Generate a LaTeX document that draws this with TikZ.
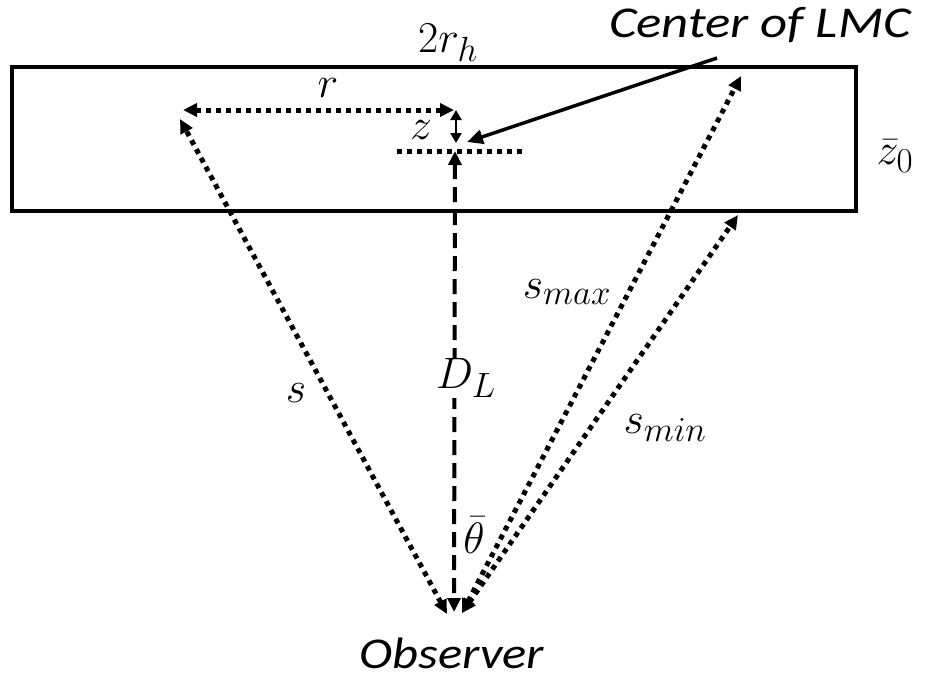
\RequirePackage{fix-cm}
\documentclass[tikz,border=0pt]{standalone}
\usepackage{fontspec}
\setsansfont{Carlito}
\DeclareMathSizes{44}{44}{35}{28}
\usetikzlibrary{arrows.meta}
\begin{document}
\begin{tikzpicture}[x=1pt,y=-1pt,
  tip/.tip={Triangle[length=14pt,width=13pt]},
  dotline/.style={line width=5pt,dash pattern=on 5pt off 5pt},
  dotarrow/.style={dotline,tip-tip},
  dashline/.style={line width=4pt,dash pattern=on 15pt off 8pt,tip-tip},
  mlabel/.style={inner sep=0pt,font=\fontsize{44}{52}\selectfont},
  tlabel/.style={inner sep=0pt,font=\fontsize{44}{52}\selectfont\sffamily\itshape}]
\useasboundingbox (0,0) rectangle (925,681);
% the slab
\draw[line width=4.5pt] (12,67) rectangle (856,211);
% points
\coordinate (obsL) at (447,614);
\coordinate (obsC) at (454,612);
\coordinate (obsR) at (462,613);
\coordinate (sTop) at (180,119);
\coordinate (rL) at (183,110);
\coordinate (rR) at (454,110);
\coordinate (zTop) at (456,110);
\coordinate (zBot) at (456,143);
\coordinate (cen) at (455,151);
\coordinate (hL) at (397,151);
\coordinate (hR) at (525,151);
\coordinate (maxTop) at (741,76);
\coordinate (minTop) at (738,215);
\coordinate (lmcStart) at (717,58);
\coordinate (lmcTip) at (467,142);
% connectors
\draw[dotline] (hL) -- (hR);
\draw[dotarrow] (rL) -- (rR);
\draw[line width=2.5pt,{Triangle[length=10pt,width=11pt]}-{Triangle[length=10pt,width=11pt]}] (zTop) -- (zBot);
\draw[dashline] (cen) -- (obsC);
\draw[dotarrow] (obsL) -- (sTop);
\draw[dotarrow] (obsR) -- (maxTop);
\draw[dotarrow] (obsR) -- (minTop);
\draw[line width=3.5pt,-{Triangle[length=16pt,width=14pt]}] (lmcStart) -- (lmcTip);
% labels
\node[mlabel] (l2rh) at (448,43) {$2r_h$};
\node[mlabel] (lr) at (328,88) {$r$};
\node[mlabel] (lz) at (421,130) {$z$};
\node[mlabel] (lz0) at (895,156) {$\bar{z}_0$};
\node[mlabel] (lsmax) at (567,292) {$s_{max}$};
\node[mlabel,fill=white,inner sep=1pt] (lDL) at (466,378) {$D_L$};
\node[mlabel] (ls) at (296,393) {$s$};
\node[mlabel] (lsmin) at (665,428) {$s_{min}$};
\node[mlabel] (lth) at (474,535) {$\bar{\theta}$};
\node[tlabel,xscale=1.15] (lobs) at (452,653) {Observer};
\node[tlabel,xscale=1.2] (llmc) at (760,25) {Center of LMC};
\end{tikzpicture}
\end{document}
